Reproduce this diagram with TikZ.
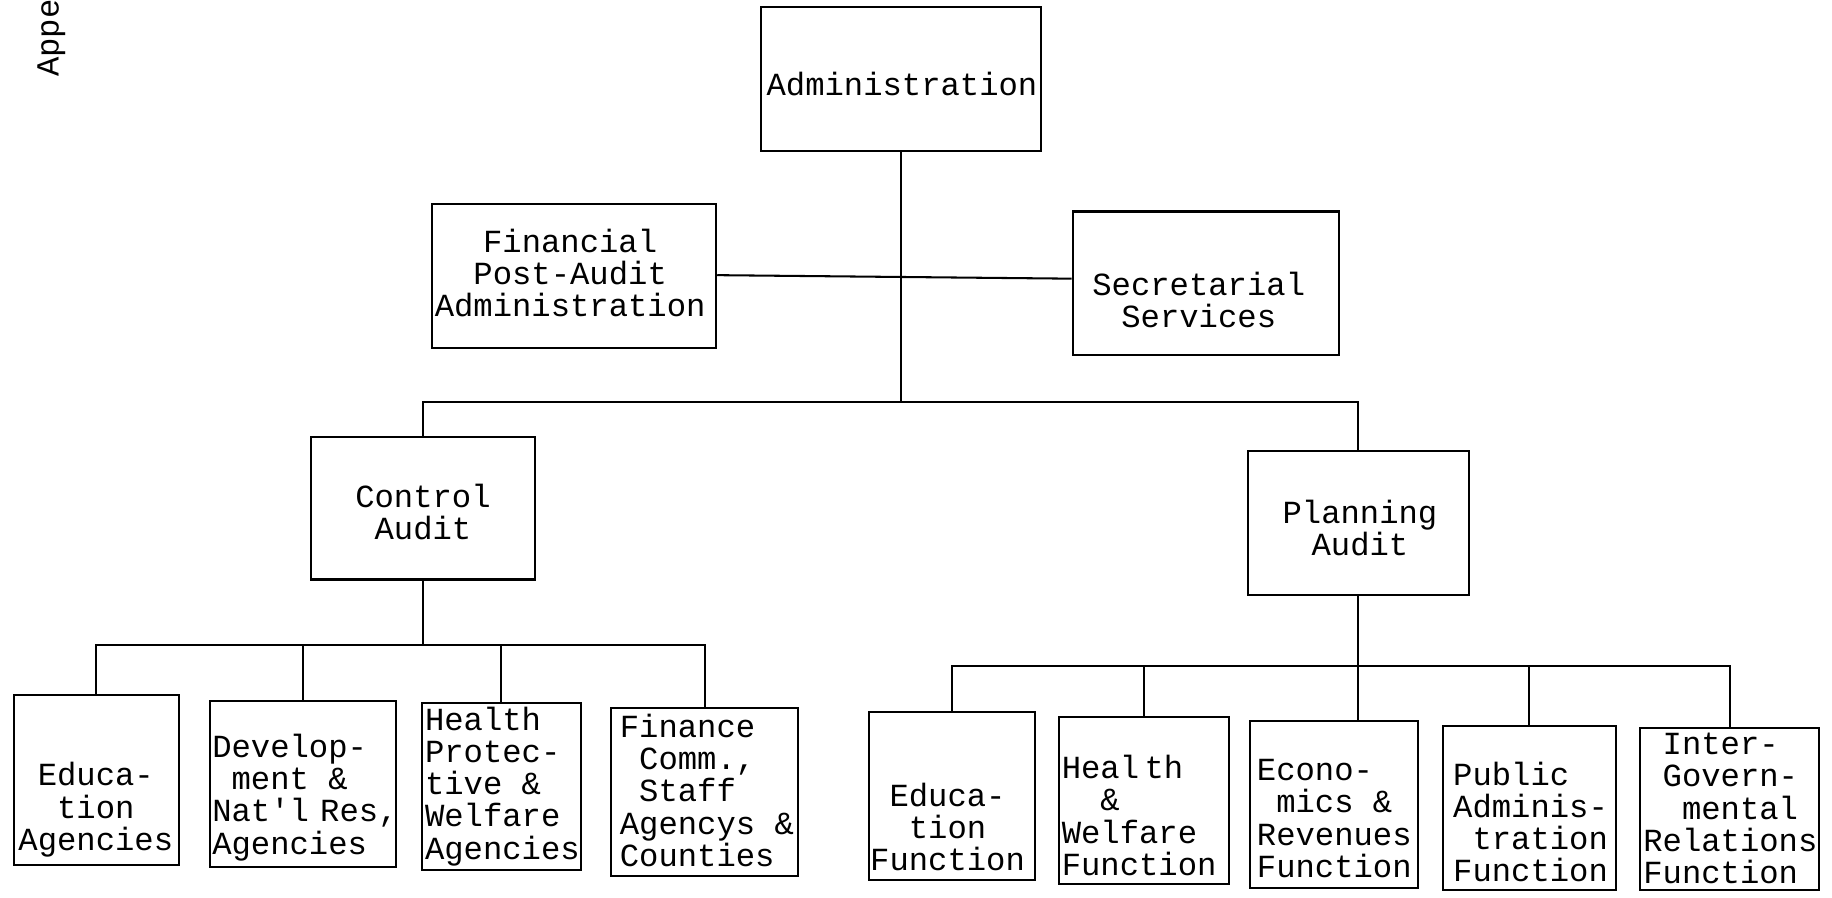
\documentclass[tikz,border=0pt]{standalone}
\usepackage{fontspec}
\newfontfamily\typewfont{Liberation Mono}
\newcommand\orgfont{\typewfont\fontsize{15.7}{15.7}\selectfont}
\newcommand\ind{\hphantom{x}}
\tikzset{
  box/.style={draw,line width=1pt,inner sep=0pt},
  wh/.style 2 args={minimum width=#1*0.02cm,minimum height=#2*0.02cm},
  txt/.style={inner sep=0pt,align=center},
  txtl/.style={inner sep=0pt,align=left}
}
\begin{document}
\begin{tikzpicture}[x=0.02cm,y=-0.02cm,font=\orgfont]
      \useasboundingbox (0,0) rectangle (1568,768);
      \node[rotate=90,anchor=west,inner sep=0pt] (app) at (44,66) {Appe};
      % boxes
      \draw
        (771,67.5) node[box,wh={240}{123}] (adm){}
        (491.5,236.5) node[box,wh={243}{123}] (fpa){}
        (1032,242.5) node[box,wh={228}{123}] (sec){}
        (362,435) node[box,wh={192}{122}] (ctl){}
        (1162.5,447.5) node[box,wh={189}{123}] (pln){}
        (82.5,667.5) node[box,wh={141}{145}] (eag){}
        (259.5,671) node[box,wh={159}{142}] (dev){}
        (429,673.5) node[box,wh={136}{143}] (hpw){}
        (603,678) node[box,wh={160}{144}] (fin){}
        (815,681) node[box,wh={142}{144}] (edf){}
        (979,685.5) node[box,wh={146}{143}] (hwf){}
        (1142,688.5) node[box,wh={144}{143}] (ecn){}
        (1309,691.5) node[box,wh={148}{141}] (paf){}
        (1480.5,692.5) node[box,wh={153}{139}] (igr){};
      % texts
      \draw
        (772,72) node[txt] (adm-t){Administration}
        (488,233.5) node[txt] (fpa-t){Financial\\Post-Audit\\Administration}
        (1026,257) node[txt] (sec-t){Secretarial\\Services}
        (362,438) node[txt] (ctl-t){Control\\Audit}
        (1164,452) node[txt] (pln-t){Planning\\Audit}
        (82,693) node[txt] (eag-t){Educa-\\tion\\Agencies}
        (261,682.5) node[txtl] (dev-t){Develop-\\\ind ment \&\\Nat'l\hspace{0.35em}Res,\\Agencies}
        (430,673) node[txtl] (hpw-t){Health\\Protec-\\tive \&\\Welfare\\Agencies}
        (605,676.5) node[txtl] (fin-t){Finance\\\ind Comm.,\\\ind Staff\\Agencys \&\\Counties}
        (811,708) node[txt] (edf-t){Educa-\\tion\\Function}
        (975,698) node[txtl] (hwf-t){Heal\,th\\\ind\ind\&\\Welfare\\Function}
        (1142,700.5) node[txtl] (ecn-t){Econo-\\\ind mics \&\\Revenues\\Function}
        (1310,703.5) node[txtl] (paf-t){Public\\Adminis-\\\ind tration\\Function}
        (1481,692) node[txtl] (igr-t){\ind Inter-\\\ind Govern-\\\ind\ind mental\\Relations\\Function};
      % connectors
      \begin{scope}[line width=1pt]
        \coordinate (hub) at (771,344);
        \coordinate (cbus) at (362,552);
        \coordinate (pbus) at (1162.5,570);
        \draw (adm.south) -- (hub);
        \draw ([yshift=0.02cm]fpa.east) -- ([yshift=0.08cm]sec.west);
        \draw (ctl.north) |- (hub) -| (pln.north);
        \draw (ctl.south) -- (cbus);
        \foreach \n in {eag,dev,hpw,fin}
          \draw (\n.north) |- (cbus);
        \draw (pln.south) -- (pln.south |- ecn.north);
        \foreach \n in {edf,hwf,paf,igr}
          \draw (\n.north) |- (pbus);
      \end{scope}
    \end{tikzpicture}
\end{document}
